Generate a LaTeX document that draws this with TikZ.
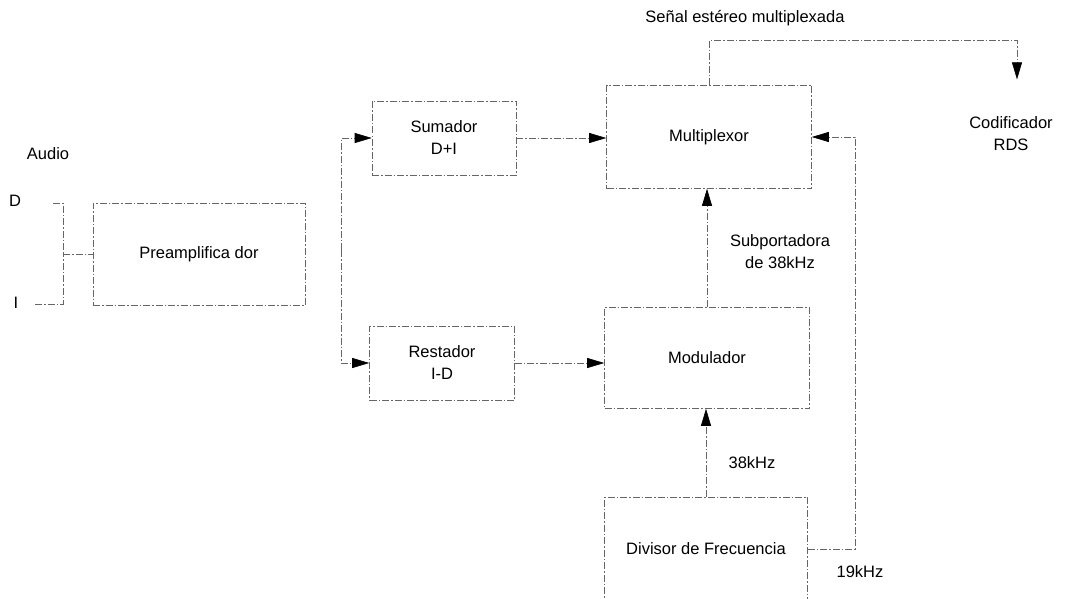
\documentclass[tikz,border=0pt]{standalone}
\usepackage{fontspec}
\setmainfont{Liberation Sans}
\usetikzlibrary{arrows.meta}

\begin{document}
\begin{tikzpicture}[x=1pt, y=-1pt, font=\fontsize{16.5}{22}\selectfont]
      \tikzset{wire/.style={draw=black!60, line width=0.6pt,
        dash pattern=on 7pt off 2pt on 1.5pt off 2pt}}
      \tikzset{blk/.style 2 args={wire, rectangle, align=center,
        minimum width=#1pt, minimum height=#2pt, inner sep=0pt}}
      \tikzset{sig/.style={wire,
        -{Triangle[length=17pt, width=10pt, color=black, fill=black]}}}

      \useasboundingbox (0,0) rectangle (1070,599);

      \draw
      (199,254) node [blk={212}{102}] (preamp) {Preamplifica dor}
      (444,138) node [blk={144}{74}] (suma1) {Sumador\\D+I}
      (442,363) node [blk={145}{74}] (resta1) {Restador\\I-D}
      (709,137) node [blk={205}{103}] (mux1) {Multiplexor}
      (707,358) node [blk={205}{101}] (mod1) {Modulador}
      (706,549) node [blk={203}{104}] (div1) {Divisor de Frecuencia}

      (48,154) node (audio) {Audio}
      (15,201) node (inD) {D}
      (16,303) node (inI) {I}
      (1011,134) node [align=center] (rds1) {Codificador\\RDS}

      (745,18) node (lblmpx) {Señal estéreo multiplexada}
      (780,252) node [align=center] (lblsub) {Subportadora\\de 38kHz}
      (752,463) node (lbl38) {38kHz}
      (860,572) node (lbl19) {19kHz};

      \coordinate (d0) at (53,203);
      \coordinate (i0) at (35,304);
      \coordinate (join1) at (63,254);
      \coordinate (fork1) at (341,250);

      % entradas de audio
      \draw[wire] (d0) -| (join1);
      \draw[wire] (i0) -| (join1);
      \draw[wire] (join1) -- (preamp.west);

      % sumador y restador
      \draw[sig] (fork1) |- (suma1.west);
      \draw[sig] (fork1) |- (resta1.west);
      \draw[sig] (suma1.east) -- (suma1.east -| mux1.west);
      \draw[sig] (resta1.east) -- (resta1.east -| mod1.west);

      % portadoras
      \draw[sig] (div1.north) -- (div1.north |- mod1.south);
      \draw[sig] (mod1.north) -- (mod1.north |- mux1.south);
      \draw[sig] (div1.east) -- ++(47,0) |- (mux1.east);

      % salida
      \draw[sig] (mux1.north) -- ++(0,-45)
        -| ([xshift=6pt, yshift=34pt]rds1.north);
    \end{tikzpicture}
\end{document}
